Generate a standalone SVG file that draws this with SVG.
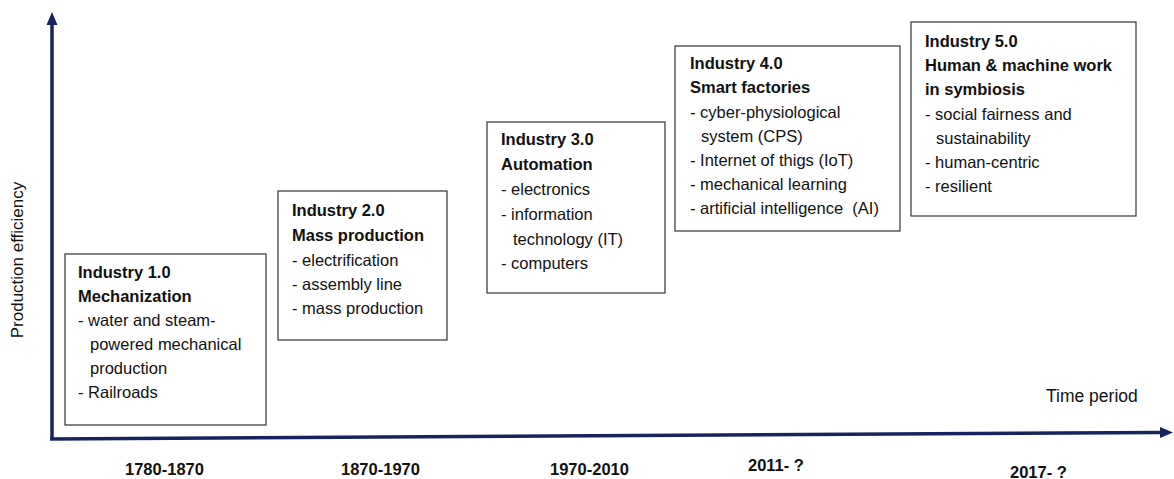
<svg xmlns="http://www.w3.org/2000/svg" width="1174" height="479" viewBox="0 0 1174 479">
<style>
text{font-family:"Liberation Sans",Arial,sans-serif;font-size:16.5px;fill:#111}
.b{font-weight:bold}
.box{fill:#fff;stroke:#333;stroke-width:1.2}
.axis{stroke:#16235e;stroke-width:3.5;fill:none}
</style>
<defs>
<marker id="ah" markerWidth="14" markerHeight="12" refX="1" refY="6" orient="auto" markerUnits="userSpaceOnUse"><path d="M0,0.5 L13,6 L0,11.5 z" fill="#16235e"/></marker>
</defs>
<g id="connectors">
<path class="axis" d="M52,439 L52,24" marker-end="url(#ah)"/>
<path class="axis" d="M50,439 L1161,432.5" marker-end="url(#ah)"/>
</g>
<text x="23" y="260" text-anchor="middle" transform="rotate(-90 23 260)" style="font-size:17px">Production efficiency</text>
<text x="1046" y="402" style="font-size:17.5px">Time period</text>
<g class="b">
<text x="125" y="475" class="b">1780-1870</text>
<text x="341" y="475" class="b">1870-1970</text>
<text x="550" y="475" class="b">1970-2010</text>
<text x="748" y="471" class="b">2011- ?</text>
<text x="1010" y="478" class="b">2017- ?</text>
</g>
<g id="industry1">
<rect class="box" x="65" y="254" width="201" height="171"/>
<text x="78" y="278" class="b">Industry 1.0</text>
<text x="78" y="302" class="b">Mechanization</text>
<text x="78" y="326">- water and steam-</text>
<text x="90" y="350">powered mechanical</text>
<text x="90" y="374">production</text>
<text x="78" y="398">- Railroads</text>
</g>
<g id="industry2">
<rect class="box" x="278" y="191" width="169" height="149"/>
<text x="292" y="216" class="b">Industry 2.0</text>
<text x="292" y="241" class="b">Mass production</text>
<text x="292" y="266">- electrification</text>
<text x="292" y="290">- assembly line</text>
<text x="292" y="314">- mass production</text>
</g>
<g id="industry3">
<rect class="box" x="487" y="122" width="178" height="171"/>
<text x="501" y="145" class="b">Industry 3.0</text>
<text x="501" y="170" class="b">Automation</text>
<text x="501" y="195">- electronics</text>
<text x="501" y="220">- information</text>
<text x="513" y="245">technology (IT)</text>
<text x="501" y="269">- computers</text>
</g>
<g id="industry4">
<rect class="box" x="675" y="46" width="225" height="185"/>
<text x="690" y="69" class="b">Industry 4.0</text>
<text x="690" y="93" class="b">Smart factories</text>
<text x="690" y="118">- cyber-physiological</text>
<text x="701" y="142">system (CPS)</text>
<text x="690" y="166">- Internet of thigs (IoT)</text>
<text x="690" y="190">- mechanical learning</text>
<text x="690" y="214" xml:space="preserve">- artificial intelligence  (AI)</text>
</g>
<g id="industry5">
<rect class="box" x="911" y="22" width="225" height="194"/>
<text x="925" y="47" class="b">Industry 5.0</text>
<text x="925" y="71" class="b">Human &amp; machine work</text>
<text x="925" y="95" class="b">in symbiosis</text>
<text x="925" y="120">- social fairness and</text>
<text x="936" y="144">sustainability</text>
<text x="925" y="168">- human-centric</text>
<text x="925" y="192">- resilient</text>
</g>
</svg>
